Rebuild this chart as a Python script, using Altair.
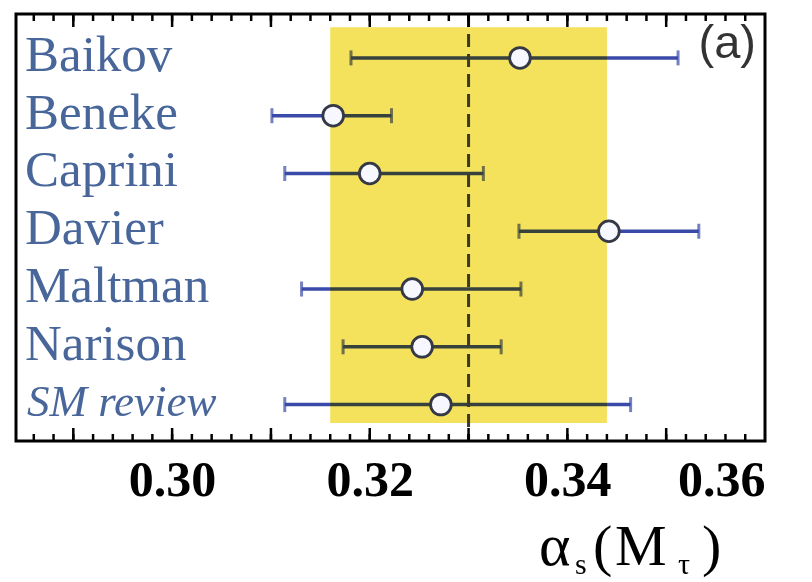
import altair as alt
import pandas as pd

# Determinations of alpha_s(M_tau), top to bottom
names = ["Baikov", "Beneke", "Caprini", "Davier", "Maltman", "Narison", "SM review"]
central = [0.3352, 0.3163, 0.3200, 0.3442, 0.3243, 0.3253, 0.3272]
low = [0.3181, 0.3101, 0.3114, 0.3351, 0.3131, 0.3173, 0.3114]
high = [0.3512, 0.3222, 0.3315, 0.3533, 0.3353, 0.3333, 0.3464]
rows = list(range(len(names)))

# Average value and its uncertainty band
band_center = 0.330
band_half = 0.014
band_rows = [-0.53, 6.32]

tick_labels = [0.30, 0.32, 0.34, 0.36]
major_ticks = [0.29, 0.30, 0.31, 0.32, 0.33, 0.34, 0.35]
minor_ticks = [round(0.286 + 0.002 * k, 3) for k in range(37)]

W, H = 749, 427
BLUE = "#3a4aa8"
YELLOW = "#f4e15c"
LABEL = "#48669a"
SERIF = "Liberation Serif"

df = pd.DataFrame({"name": names, "central": central, "low": low,
                   "high": high, "row": rows})
band_df = pd.DataFrame({"lo": [band_center - band_half], "hi": [band_center + band_half],
                        "top": [band_rows[0]], "bottom": [band_rows[1]],
                        "mid": [band_center]})

xs = alt.Scale(domain=[0.2842, 0.3600], nice=False, zero=False)
ys = alt.Scale(domain=[-0.76, 6.63], nice=False, zero=False, reverse=True)

x_axis = alt.Axis(values=tick_labels, format=".2f", labelFont=SERIF,
                  labelFontWeight="bold", labelFontSize=50, labelColor="black",
                  ticks=False, domain=False, grid=False, labelPadding=14, title=None)

base = alt.Chart(df)

bars = base.mark_rule(color=BLUE, strokeWidth=3.5).encode(
    x=alt.X("low:Q", scale=xs, axis=x_axis),
    x2="high:Q",
    y=alt.Y("row:Q", scale=ys, axis=None),
)

caps = base.transform_fold(["low", "high"], as_=["end", "value"]).mark_tick(
    orient="vertical", color=BLUE, thickness=3, size=15
).encode(x=alt.X("value:Q", scale=xs), y=alt.Y("row:Q", scale=ys))

band = alt.Chart(band_df).mark_rect(color=YELLOW, blend="multiply").encode(
    x=alt.X("lo:Q", scale=xs), x2="hi:Q",
    y=alt.Y("top:Q", scale=ys), y2="bottom:Q",
)

center_line = alt.Chart(band_df).mark_rule(
    color="#3a3a26", strokeWidth=3, strokeDash=[13, 7]
).encode(x=alt.X("mid:Q", scale=xs), y=alt.value(0), y2=alt.value(H))

points = base.mark_circle(fill="#f6f7ff", stroke="#353845", strokeWidth=2.8,
                          size=430, opacity=1).encode(
    x=alt.X("central:Q", scale=xs), y=alt.Y("row:Q", scale=ys)
)

labels = base.transform_filter(alt.datum.name != "SM review").mark_text(
    align="left", baseline="alphabetic", dy=13, font=SERIF, fontSize=51, color=LABEL
).encode(x=alt.value(9), y=alt.Y("row:Q", scale=ys), text="name:N")

review_label = base.transform_filter(alt.datum.name == "SM review").mark_text(
    align="left", baseline="alphabetic", dy=11, font=SERIF, fontSize=45,
    fontStyle="italic", color=LABEL
).encode(x=alt.value(11), y=alt.Y("row:Q", scale=ys), text="name:N")

# Inward ticks on the bottom and top edges of the frame
minor_df = pd.DataFrame({"t": minor_ticks})
major_df = pd.DataFrame({"t": major_ticks})
tick_layers = []
for tdf, length in ((minor_df, 7), (major_df, 13)):
    tick_layers.append(alt.Chart(tdf).mark_rule(color="black", strokeWidth=2.5).encode(
        x=alt.X("t:Q", scale=xs), y=alt.value(H - length), y2=alt.value(H)))
    tick_layers.append(alt.Chart(tdf).mark_rule(color="black", strokeWidth=2.5).encode(
        x=alt.X("t:Q", scale=xs), y=alt.value(0), y2=alt.value(length)))

panel = alt.Chart(pd.DataFrame({"t": ["(a)"]})).mark_text(
    align="right", baseline="alphabetic", font="Liberation Sans", fontSize=47,
    color="#333333"
).encode(x=alt.value(740), y=alt.value(44), text="t:N")

# Axis title alpha_s(M_tau), built from main-size and subscript pieces
title_df = pd.DataFrame({
    "t": ["α", "s", "(", "M", "τ", ")"],
    "px": [523, 559, 577, 599, 662, 686],
    "py": [551, 560, 551, 551, 560, 551],
    "fs": [60, 30, 58, 58, 30, 58],
})
title = alt.Chart(title_df).mark_text(
    align="left", baseline="alphabetic", font=SERIF, color="black"
).encode(
    x=alt.X("px:Q", scale=None), y=alt.Y("py:Q", scale=None),
    size=alt.Size("fs:Q", scale=None, legend=None), text="t:N"
)

chart = alt.layer(
    bars, caps, band, center_line, points, labels, review_label,
    *tick_layers, panel, title
).properties(
    width=W, height=H,
    autosize=alt.AutoSizeParams(type="none"),
    padding={"left": 16, "top": 14, "right": 47, "bottom": 141},
    background="white",
).configure_view(stroke="black", strokeWidth=3)

chart.save("out.html", embed_options={"renderer": "svg", "actions": False})
